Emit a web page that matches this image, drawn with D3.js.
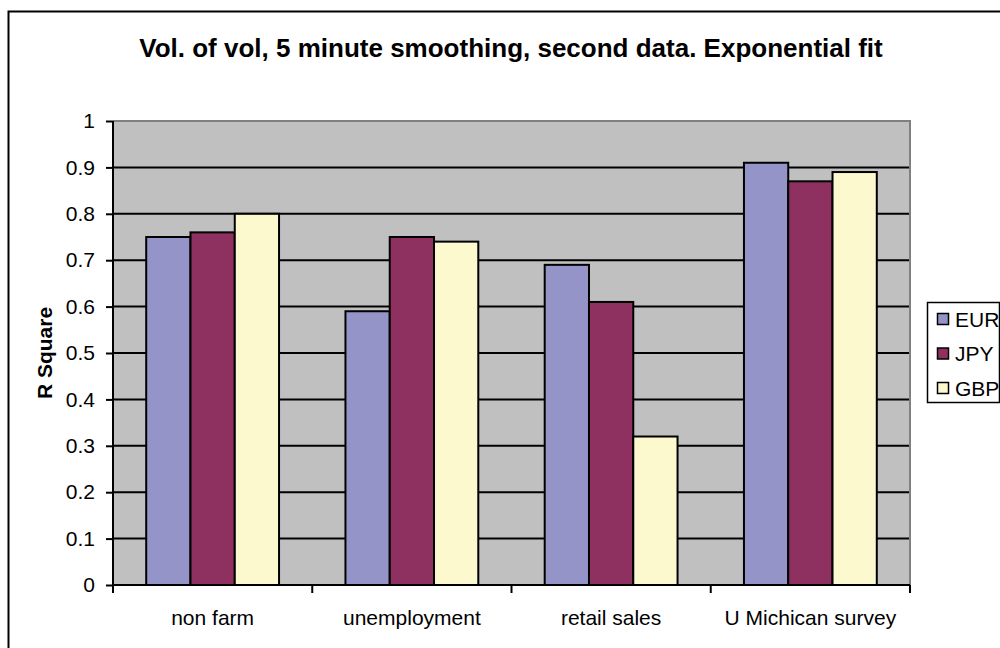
<!DOCTYPE html>
<html>
<head>
<meta charset="utf-8">
<script src="https://cdn.jsdelivr.net/npm/d3@7/dist/d3.min.js"></script>
<style>
  html, body { margin: 0; padding: 0; background: #fff; }
  svg { display: block; }
  text { font-family: "Liberation Sans", Arial, sans-serif; fill: #000; }
</style>
</head>
<body>
<svg id="chart" width="1000" height="648"></svg>
<script>
// R Square values per event and currency
const categories = ["non farm", "unemployment", "retail sales", "U Michican survey"];
const seriesNames = ["EUR", "JPY", "GBP"];
const EUR = [0.75, 0.59, 0.69, 0.91];
const JPY = [0.76, 0.75, 0.61, 0.87];
const GBP = [0.80, 0.74, 0.32, 0.89];
const yTicks = [0, 0.1, 0.2, 0.3, 0.4, 0.5, 0.6, 0.7, 0.8, 0.9, 1];
const seriesColors = ["#9494C8", "#8F3160", "#FCF9CE"];

const series = [EUR, JPY, GBP];
const svg = d3.select("#chart");

const plot = { left: 113, right: 910, top: 121, bottom: 585 };

// outer chart frame
svg.append("rect")
  .attr("x", 8.5).attr("y", 11.5)
  .attr("width", 1010).attr("height", 700)
  .attr("fill", "#fff").attr("stroke", "#000").attr("stroke-width", 2);

// title
svg.append("text")
  .attr("x", 511).attr("y", 57)
  .attr("text-anchor", "middle")
  .attr("font-size", 26).attr("font-weight", "bold")
  .text("Vol. of vol, 5 minute smoothing, second data. Exponential fit");

const y = d3.scaleLinear().domain([0, 1]).range([plot.bottom, plot.top]);
const x0 = d3.scaleBand().domain(categories).range([plot.left, plot.right]).padding(0);
const bw = x0.bandwidth();
const x1 = d3.scaleBand().domain(seriesNames)
  .range([bw * 0.75 / 4.5, bw * 3.75 / 4.5]).padding(0);

// plot background
svg.append("rect")
  .attr("x", plot.left).attr("y", plot.top)
  .attr("width", plot.right - plot.left).attr("height", plot.bottom - plot.top)
  .attr("fill", "#C0C0C0");

// gridlines
svg.append("g").selectAll("line")
  .data(yTicks.filter(t => t > 0 && t < 1))
  .join("line")
  .attr("x1", plot.left).attr("x2", plot.right)
  .attr("y1", d => y(d)).attr("y2", d => y(d))
  .attr("stroke", "#000").attr("stroke-width", 2);

// plot frame top and right
svg.append("path")
  .attr("d", `M${plot.left},${plot.top} H${plot.right} V${plot.bottom}`)
  .attr("fill", "none").attr("stroke", "#808080").attr("stroke-width", 2);

// bars
const groups = svg.append("g").selectAll("g")
  .data(categories)
  .join("g")
  .attr("transform", d => `translate(${x0(d)},0)`);

groups.selectAll("rect")
  .data((d, i) => seriesNames.map((s, j) => ({ s, j, v: series[j][i] })))
  .join("rect")
  .attr("x", d => x1(d.s))
  .attr("width", x1.bandwidth())
  .attr("y", d => y(d.v))
  .attr("height", d => y(0) - y(d.v))
  .attr("fill", d => seriesColors[d.j])
  .attr("stroke", "#000").attr("stroke-width", 2);

// y axis
const yAxis = svg.append("g")
  .attr("transform", `translate(${plot.left},0)`)
  .call(d3.axisLeft(y).tickValues(yTicks).tickSize(7).tickPadding(11)
    .tickFormat(d3.format("~g")));
yAxis.select(".domain").attr("stroke", "#000").attr("stroke-width", 2)
  .attr("d", `M0,${plot.top}V${plot.bottom}`);
yAxis.selectAll(".tick line").attr("stroke", "#000").attr("stroke-width", 2);
yAxis.selectAll(".tick text")
  .attr("font-size", 21).attr("font-family", "Liberation Sans, Arial, sans-serif")
  .attr("fill", "#000");

// x axis with separators between categories
const xAxisG = svg.append("g").attr("transform", `translate(0,${plot.bottom})`);
xAxisG.append("line")
  .attr("x1", plot.left).attr("x2", plot.right)
  .attr("stroke", "#000").attr("stroke-width", 2);
const seps = categories.map(c => x0(c)).concat([plot.right]);
xAxisG.selectAll(".sep")
  .data(seps)
  .join("line")
  .attr("class", "sep")
  .attr("x1", d => d).attr("x2", d => d)
  .attr("y1", 0).attr("y2", 8)
  .attr("stroke", "#000").attr("stroke-width", 2);
xAxisG.selectAll(".lbl")
  .data(categories)
  .join("text")
  .attr("class", "lbl")
  .attr("x", d => x0(d) + bw / 2)
  .attr("y", 40)
  .attr("text-anchor", "middle")
  .attr("font-size", 21)
  .text(d => d);

// y axis title
svg.append("text")
  .attr("transform", `translate(52,${(plot.top + plot.bottom) / 2}) rotate(-90)`)
  .attr("text-anchor", "middle")
  .attr("font-size", 21).attr("font-weight", "bold")
  .text("R Square");

// legend
const legend = svg.append("g");
legend.append("rect")
  .attr("x", 927.5).attr("y", 302.5)
  .attr("width", 72).attr("height", 100)
  .attr("fill", "#fff").attr("stroke", "#000").attr("stroke-width", 1.5);
const rows = legend.selectAll(".row")
  .data(seriesNames)
  .join("g")
  .attr("class", "row")
  .attr("transform", (d, i) => `translate(0,${319 + i * 34.5})`);
rows.append("rect")
  .attr("x", 937.5).attr("y", -5.5)
  .attr("width", 11).attr("height", 11)
  .attr("fill", (d, i) => seriesColors[i])
  .attr("stroke", "#000").attr("stroke-width", 1.5);
rows.append("text")
  .attr("x", 955).attr("y", 7.5)
  .attr("font-size", 21)
  .text(d => d);
</script>
</body>
</html>
